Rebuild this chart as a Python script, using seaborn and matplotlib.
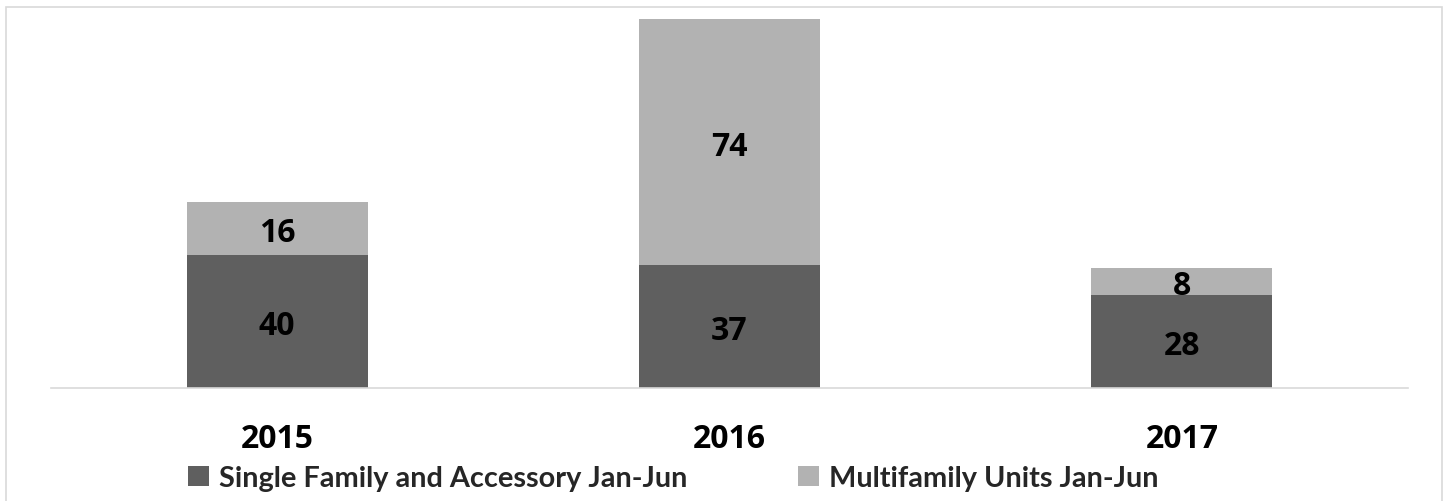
import matplotlib
matplotlib.use('Agg')
import matplotlib.pyplot as plt
import matplotlib.transforms as mtransforms
import seaborn as sns
import pandas as pd
from matplotlib.patches import Rectangle, Patch

years = ['2015', '2016', '2017']
single_family = [40, 37, 28]
multifamily = [16, 74, 8]
series_names = ['Single Family and Accessory Jan-Jun', 'Multifamily Units Jan-Jun']
colors = ['#5f5f5f', '#b2b2b2']

sns.set_theme(style='white')
plt.rcParams['font.family'] = ['Open Sans', 'DejaVu Sans']

W, H = 1447, 502
fig = plt.figure(figsize=(W / 100, H / 100), dpi=100)
ax = fig.add_axes([51 / W, 1 - 389 / H, 1357 / W, 369 / H])

totals = [s + m for s, m in zip(single_family, multifamily)]
df = pd.DataFrame({'year': years, 'single': single_family, 'multi': multifamily, 'total': totals})

sns.barplot(data=df, x='year', y='total', color=colors[1], width=0.4,
            saturation=1, errorbar=None, ax=ax, linewidth=0)
sns.barplot(data=df, x='year', y='single', color=colors[0], width=0.4,
            saturation=1, errorbar=None, ax=ax, linewidth=0)

ax.set_ylim(0, 111)
ax.set_xlim(-0.5, 2.5)
ax.set_xlabel('')
ax.set_ylabel('')
ax.set_yticks([])
for s in ['top', 'left', 'right']:
    ax.spines[s].set_visible(False)
ax.spines['bottom'].set_color('#d9d9d9')
ax.spines['bottom'].set_linewidth(1.2)
ax.tick_params(axis='x', length=0, pad=24.5)
for lbl in ax.get_xticklabels():
    lbl.set_fontsize(23)
    lbl.set_fontweight('bold')
    lbl.set_color('black')

shifted = mtransforms.offset_copy(ax.transData, fig=fig, x=0, y=-3, units='points')
for i, row in df.iterrows():
    ax.text(i, row['single'] / 2, str(row['single']), ha='center', va='center',
            fontsize=23, fontweight='bold', color='black', transform=shifted)
    ax.text(i, row['single'] + row['multi'] / 2, str(row['multi']), ha='center', va='center',
            fontsize=23, fontweight='bold', color='black', transform=shifted)

# Legend entries
legend_x = [188, 798]
for name, col, lx in zip(series_names, colors, legend_x):
    fig.legend(handles=[Patch(facecolor=col, edgecolor='none', label=name)],
               loc='center left', bbox_to_anchor=(lx / W, 1 - 479 / H),
               frameon=False, borderpad=0, borderaxespad=0,
               handlelength=0.72, handleheight=0.72, handletextpad=0.35,
               prop={'family': 'Lato', 'weight': 'bold', 'size': 20.8})

# Chart area frame
fig.add_artist(Rectangle((6 / W, -0.05), 1436 / W, 1.05 - 8 / H, transform=fig.transFigure,
                         fill=False, edgecolor='#d9d9d9', linewidth=1.2))

fig.savefig('out.png', dpi=100)
